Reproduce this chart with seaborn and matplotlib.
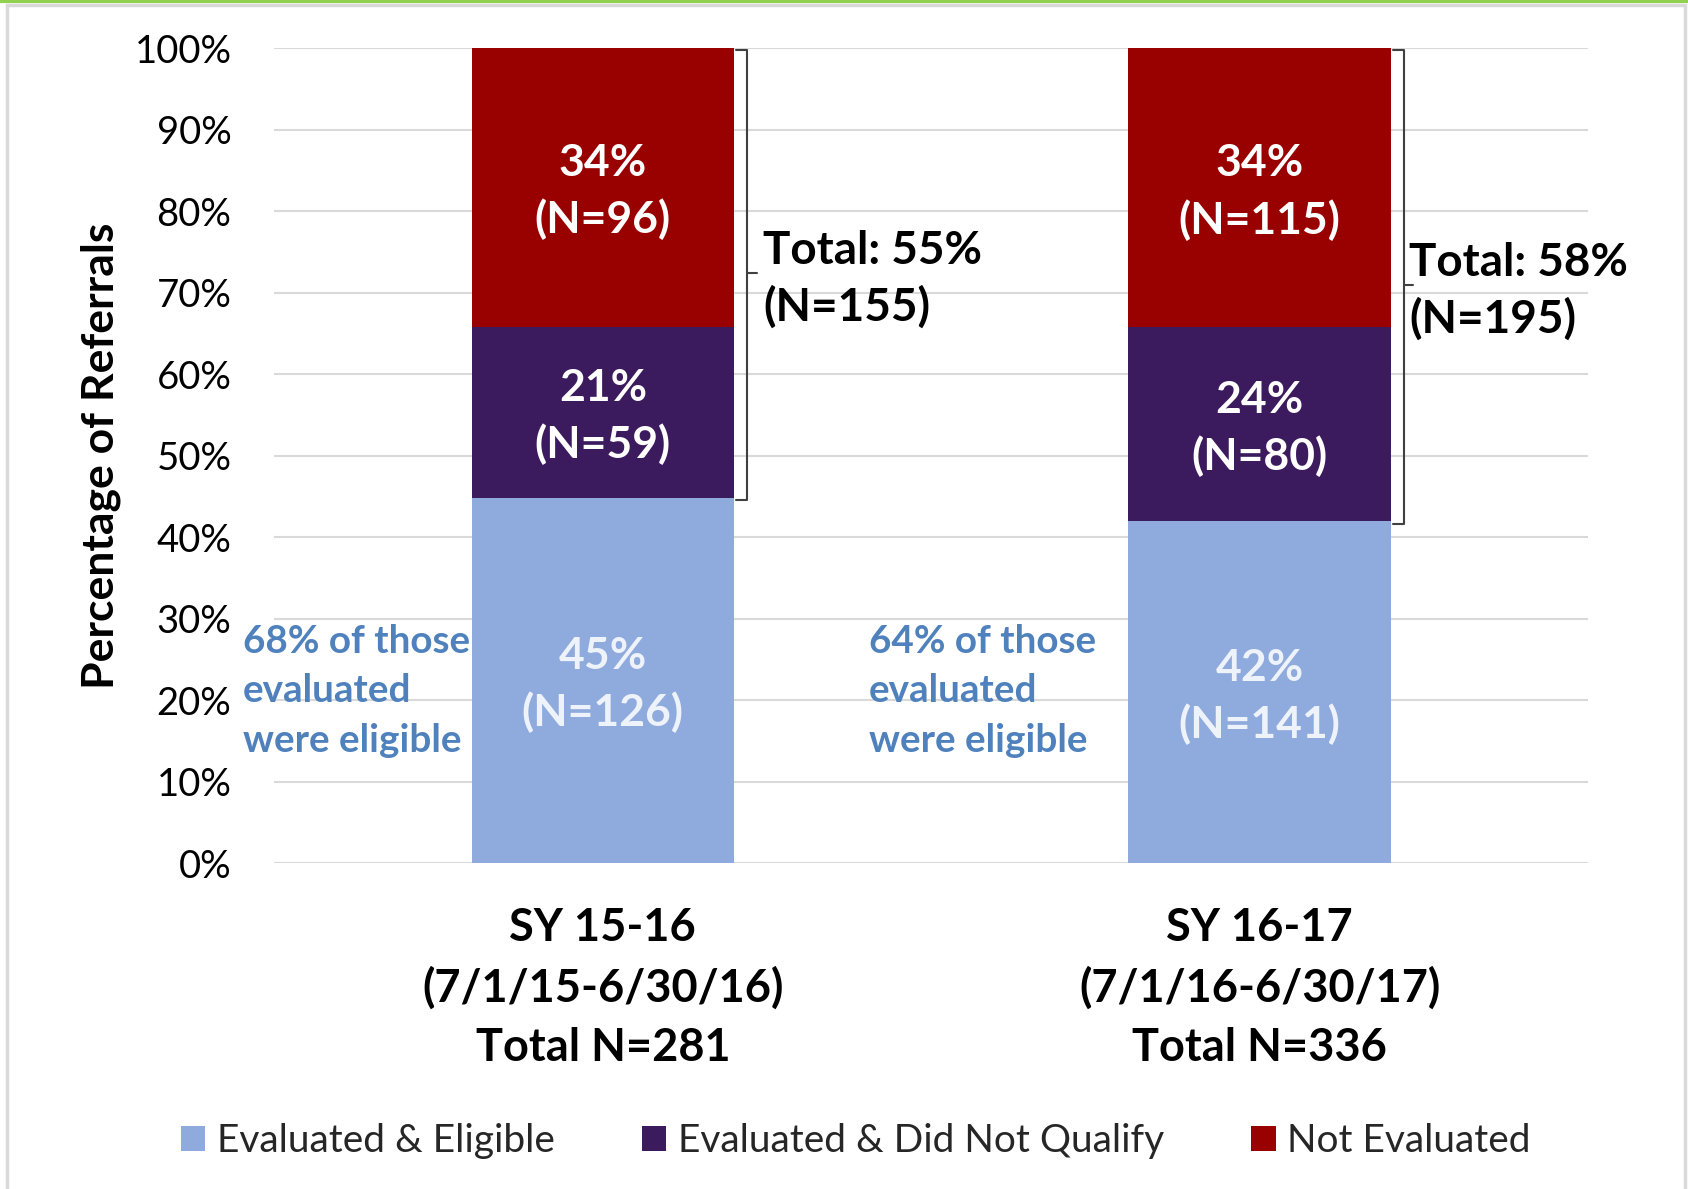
"""Referrals by evaluation outcome, two school years, stacked 100% bars."""

import matplotlib

matplotlib.use("Agg")

import matplotlib.pyplot as plt
import numpy as np
import pandas as pd
import seaborn as sns
from matplotlib.lines import Line2D
from matplotlib.patches import Patch, Rectangle

periods = ["SY 15-16\n(7/1/15-6/30/16)", "SY 16-17\n(7/1/16-6/30/17)"]
eligible_n = [126, 141]
not_qualify_n = [59, 80]
not_evaluated_n = [96, 115]
series_names = ["Evaluated & Eligible", "Evaluated & Did Not Qualify", "Not Evaluated"]
series_colors = ["#8FAADC", "#3C1A5E", "#990000"]
y_ticks = np.arange(0, 101, 10)

FONT = ["Lato", "DejaVu Sans"]
ANN_BLUE = "#4F81BD"
# left edges of the side notes, relative to each bar centre
ann_x_offsets = [-0.548, -0.595]
total_x_offsets = [0.244, 0.228]

totals = [a + b + c for a, b, c in zip(eligible_n, not_qualify_n, not_evaluated_n)]
df = pd.DataFrame({
    "label": [f"{p}\nTotal N={t}" for p, t in zip(periods, totals)],
    "eligible": [100 * a / t for a, t in zip(eligible_n, totals)],
    "not_qualify": [100 * b / t for b, t in zip(not_qualify_n, totals)],
    "not_evaluated": [100 * c / t for c, t in zip(not_evaluated_n, totals)],
})
df["lvl1"] = df["eligible"]
df["lvl2"] = df["eligible"] + df["not_qualify"]
df["lvl3"] = df["lvl2"] + df["not_evaluated"]

sns.set_theme(style="white")
plt.rcParams["font.family"] = FONT

fig = plt.figure(figsize=(16.88, 11.89), dpi=100)
ax = fig.add_axes([0.1626, 0.2738, 0.7782, 0.6855])

for col, color in zip(["lvl3", "lvl2", "lvl1"], reversed(series_colors)):
    sns.barplot(data=df, x="label", y=col, color=color, saturation=1, width=0.4,
                errorbar=None, edgecolor="none", linewidth=0, ax=ax, zorder=2)

ax.set_ylim(0, 100)
ax.set_xlim(-0.5, 1.5)
ax.set_yticks(y_ticks)
ax.set_yticklabels([f"{v}%" for v in y_ticks], fontsize=27.5)
ax.yaxis.grid(True, color="#D9D9D9", lw=1.5)
ax.set_axisbelow(True)
for s in ax.spines.values():
    s.set_visible(False)
ax.tick_params(axis="y", length=0, pad=31, labelcolor="#000000")
ax.tick_params(axis="x", length=0, pad=31)
for t in ax.get_xticklabels():
    t.set_fontsize(32.5)
    t.set_fontweight("bold")
    t.set_linespacing(1.5)
    t.set_color("#000000")
ax.set_xlabel("")
ax.set_ylabel("Percentage of Referrals", fontsize=32, fontweight="bold", color="#000000")
ax.yaxis.set_label_coords(-0.1166, 0.5)

# segment labels
for i, row in df.iterrows():
    segs = [
        (0, row["eligible"], eligible_n[i], "#EEF2FA"),
        (row["lvl1"], row["not_qualify"], not_qualify_n[i], "white"),
        (row["lvl2"], row["not_evaluated"], not_evaluated_n[i], "white"),
    ]
    for bottom, h, n, tc in segs:
        ax.text(i, bottom + h / 2 - 0.5, f"{h:.0f}%\n(N={n})", ha="center", va="center",
                fontsize=32, fontweight="bold", color=tc, linespacing=1.45, zorder=3)

    # bracket around the two upper segments
    yb, yt = row["lvl1"] - 0.3, 99.8
    ymid = (row["lvl1"] + 100) / 2
    ax.plot([i + 0.203, i + 0.219, i + 0.219, i + 0.203], [yb, yb, yt, yt],
            color="#404040", lw=1.5, zorder=3, solid_joinstyle="round")
    ax.plot([i + 0.219, i + 0.234], [ymid, ymid], color="#404040", lw=1.5, zorder=3)
    share = 100 - row["eligible"]
    ax.text(i + total_x_offsets[i], ymid - 0.8,
            f"Total: {share:.0f}%\n(N={not_qualify_n[i] + not_evaluated_n[i]})",
            ha="left", va="center", fontsize=33, fontweight="bold", color="#000000",
            linespacing=1.38, zorder=3)

    evaluated = eligible_n[i] + not_qualify_n[i]
    ratio = 100 * eligible_n[i] / evaluated
    ax.text(i + ann_x_offsets[i], 21.2, f"{ratio:.0f}% of those\nevaluated\nwere eligible",
            ha="left", va="center", fontsize=27.8, fontweight="bold", color=ANN_BLUE,
            linespacing=1.5, zorder=3, clip_on=False)

handles = [Patch(facecolor=c, edgecolor="none") for c in series_colors]
fig.legend(handles, series_names, loc="center", bbox_to_anchor=(0.507, 0.040), ncol=3,
           frameon=False, fontsize=28, handlelength=0.62, handleheight=0.62,
           handletextpad=0.3, columnspacing=2.25)

# frame and top rule
fig.add_artist(Rectangle((7 / 1688, -0.01), (1685 - 7) / 1688, 1 - 5 / 1189 + 0.01,
                         transform=fig.transFigure, fill=False, edgecolor="#D9D9D9", lw=2.5))
fig.add_artist(Line2D([0, 1], [1 - 1 / 1189] * 2, transform=fig.transFigure,
                      color="#92D050", lw=3))

plt.savefig("out.png", dpi=100)
plt.close()
